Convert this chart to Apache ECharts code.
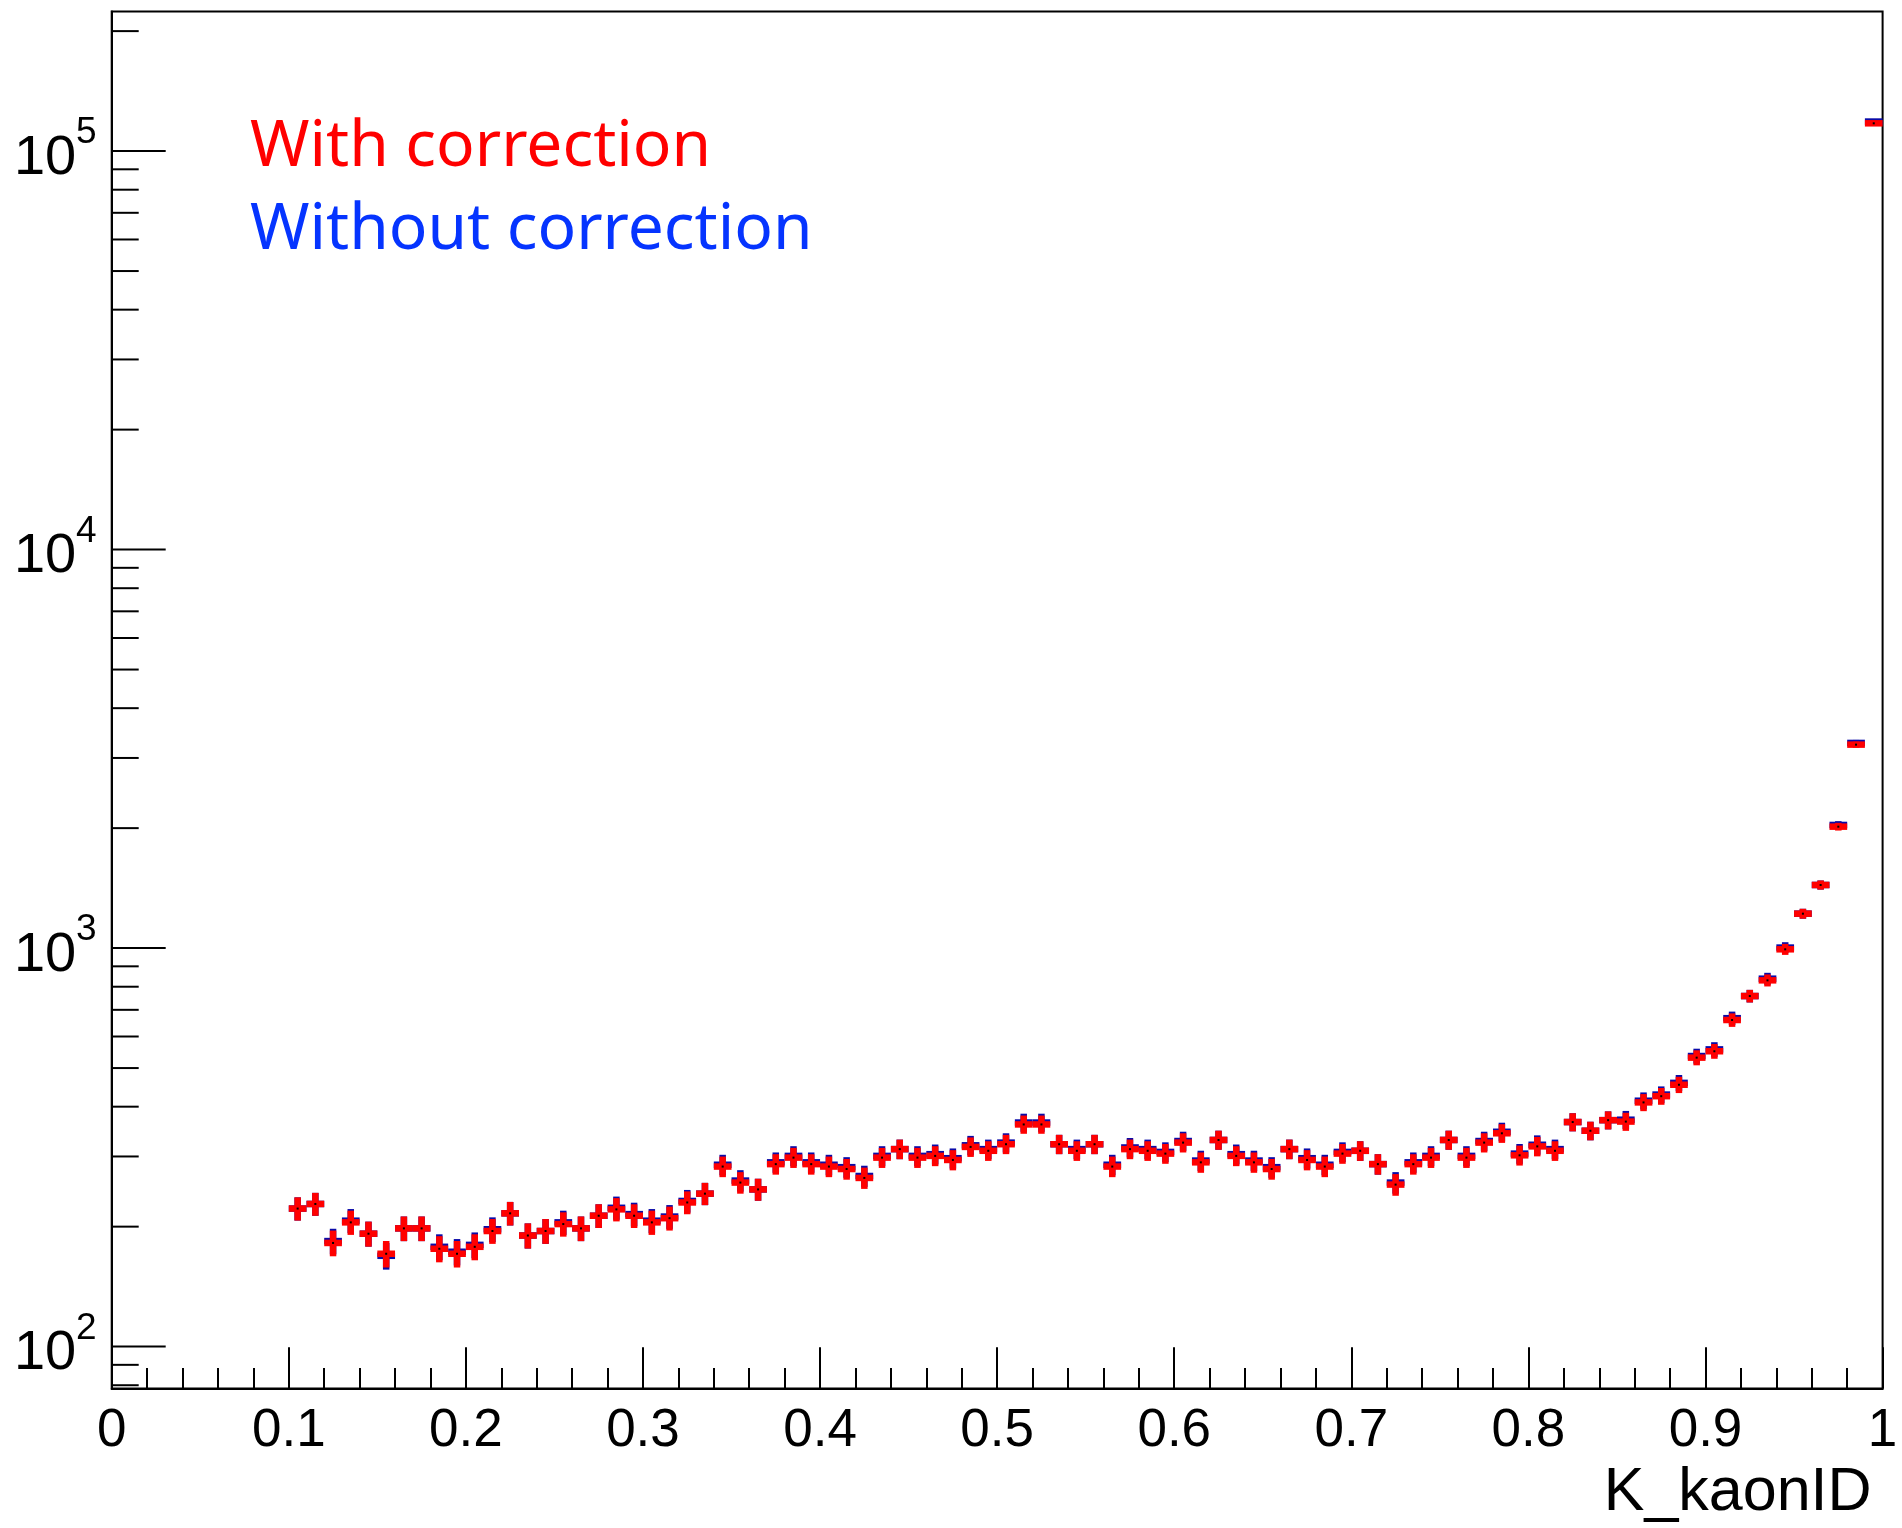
<!DOCTYPE html>
<html>
<head>
<meta charset="utf-8">
<script src="https://cdn.jsdelivr.net/npm/echarts@6/dist/echarts.min.js"></script>
<style>
html,body{margin:0;padding:0;background:#fff;}
#chart{width:1902px;height:1528px;}
</style>
</head>
<body>
<div id="chart"></div>
<script>
// ---- data ----
const binCenters = [
  0.105,0.115,0.125,0.135,0.145,0.155,0.165,0.175,0.185,0.195,
  0.205,0.215,0.225,0.235,0.245,0.255,0.265,0.275,0.285,0.295,
  0.305,0.315,0.325,0.335,0.345,0.355,0.365,0.375,0.385,0.395,
  0.405,0.415,0.425,0.435,0.445,0.455,0.465,0.475,0.485,0.495,
  0.505,0.515,0.525,0.535,0.545,0.555,0.565,0.575,0.585,0.595,
  0.605,0.615,0.625,0.635,0.645,0.655,0.665,0.675,0.685,0.695,
  0.705,0.715,0.725,0.735,0.745,0.755,0.765,0.775,0.785,0.795,
  0.805,0.815,0.825,0.835,0.845,0.855,0.865,0.875,0.885,0.895,
  0.905,0.915,0.925,0.935,0.945,0.955,0.965,0.975,0.985,0.995
];
const binWidth = 0.01;
const withCorrection = [
  222,228,182,205,192,171,198,198,176,171,
  178,195,216,190,195,203,198,213,221,213,
  205,210,230,242,283,258,248,287,298,287,
  283,279,265,298,313,298,301,294,317,310,
  322,361,361,322,310,322,283,313,310,305,
  325,290,330,301,290,279,313,294,283,305,
  310,287,255,287,298,330,298,325,343,302,
  318,310,366,348,370,367,410,425,454,531,
  551,660,758,830,993,1220,1440,2017,3240,117400
];
const withoutCorrection = [
  222,228,184,207,192,169,198,198,178,173,
  180,197,216,190,195,205,198,213,223,215,
  207,212,232,242,286,261,248,290,301,290,
  286,282,268,301,313,301,304,297,320,313,
  325,365,365,322,313,322,286,316,313,308,
  328,293,330,304,293,282,313,297,286,308,
  310,287,258,290,301,330,301,328,346,305,
  321,313,366,348,370,371,414,429,459,536,
  557,667,758,838,1003,1220,1440,2037,3272,118600
];
const yMajorTicks = [100, 1000, 10000, 100000];
const yMajorExponents = ['2', '3', '4', '5'];
const yMinorTicks = [80, 90,
  200,300,400,500,600,700,800,900,
  2000,3000,4000,5000,6000,7000,8000,9000,
  20000,30000,40000,50000,60000,70000,80000,90000,
  200000];
const xMin = 0, xMax = 1, yMin = 78.5, yMax = 224000;
const xTitle = 'K_kaonID';
const legendTexts = ['With correction', 'Without correction'];

// ---- style ----
const RED = '#ff0000';
const BLUE_MARK = '#0a0aa8';
const BLUE_TEXT = '#0534ff';
const FONT = 'Liberation Sans';

const chart = echarts.init(document.getElementById('chart'), null, {renderer: 'canvas'});

function histSeries(name, values, color) {
  return {
    name: name,
    type: 'custom',
    coordinateSystem: 'cartesian2d',
    data: binCenters.map((x, i) => [x, values[i]]),
    renderItem: function (params, api) {
      const x = api.value(0), v = api.value(1);
      const e = Math.sqrt(v);
      const c = api.coord([x, v]);
      const l = api.coord([x - binWidth / 2, v]);
      const r = api.coord([x + binWidth / 2, v]);
      const t = api.coord([x, v + e]);
      const b = api.coord([x, v - e]);
      return {
        type: 'group',
        children: [
          {type: 'line', shape: {x1: l[0], y1: c[1], x2: r[0], y2: c[1]},
           style: {stroke: color, lineWidth: 6.5}},
          {type: 'line', shape: {x1: c[0], y1: t[1], x2: c[0], y2: b[1]},
           style: {stroke: color, lineWidth: 6.5}},
          {type: 'rect', shape: {x: c[0] - 1, y: c[1] - 1, width: 2, height: 2},
           style: {fill: '#000'}}
        ]
      };
    },
    z: 5
  };
}

const option = {
  backgroundColor: '#fff',
  animation: false,
  grid: {left: 111.7, top: 11.5, width: 1770.9, height: 1377, show: true,
         borderColor: '#000', borderWidth: 2, backgroundColor: 'transparent'},
  xAxis: {
    type: 'value', min: xMin, max: xMax, interval: 0.1,
    axisLine: {show: true, onZero: false, lineStyle: {color: '#000', width: 2}},
    axisTick: {show: true, inside: true, length: 41.3, lineStyle: {color: '#000', width: 2}},
    minorTick: {show: true, splitNumber: 5, length: 20.6, lineStyle: {color: '#000', width: 2}},
    splitLine: {show: false},
    axisLabel: {show: true, color: '#000', fontSize: 53, fontFamily: FONT, margin: 16},
    name: xTitle, nameLocation: 'end', nameGap: 0,
    nameTextStyle: {fontSize: 61, fontFamily: FONT, color: '#000', align: 'right',
                    verticalAlign: 'top', padding: [74, 11, 0, 0]}
  },
  yAxis: {
    type: 'log', logBase: 10, min: yMin, max: yMax,
    axisLine: {show: true, lineStyle: {color: '#000', width: 2}},
    axisTick: {show: false}, minorTick: {show: false},
    axisLabel: {show: false}, splitLine: {show: false}
  },
  series: [
    {
      type: 'custom', coordinateSystem: 'cartesian2d', silent: true,
      data: yMajorTicks.map((v, i) => [xMin, v, i]),
      renderItem: function (params, api) {
        const c = api.coord([api.value(0), api.value(1)]);
        const exp = yMajorExponents[api.value(2)];
        return {type: 'group', children: [
          {type: 'line', shape: {x1: c[0], y1: c[1], x2: c[0] + 54, y2: c[1]},
           style: {stroke: '#000', lineWidth: 2}},
          {type: 'text', x: c[0] - 35.5, y: c[1] + 7,
           style: {text: '10', fontSize: 56, fontFamily: FONT, fill: '#000',
                   align: 'right', verticalAlign: 'middle'}},
          {type: 'text', x: c[0] - 15, y: c[1] - 18,
           style: {text: exp, fontSize: 37, fontFamily: FONT, fill: '#000',
                   align: 'right', verticalAlign: 'middle'}}
        ]};
      },
      z: 3
    },
    {
      type: 'custom', coordinateSystem: 'cartesian2d', silent: true,
      data: yMinorTicks.map(v => [xMin, v]),
      renderItem: function (params, api) {
        const c = api.coord([api.value(0), api.value(1)]);
        return {type: 'line', shape: {x1: c[0], y1: c[1], x2: c[0] + 27, y2: c[1]},
                style: {stroke: '#000', lineWidth: 2}};
      },
      z: 3
    },
    histSeries(legendTexts[1], withoutCorrection, BLUE_MARK),
    histSeries(legendTexts[0], withCorrection, RED)
  ],
  graphic: [
    {type: 'text', left: 250, top: 116,
     style: {text: legendTexts[0], fontSize: 64, fontFamily: 'Noto Sans', fill: RED}},
    {type: 'text', left: 250, top: 199,
     style: {text: legendTexts[1], fontSize: 64, fontFamily: 'Noto Sans', fill: BLUE_TEXT}}
  ]
};
chart.setOption(option);
</script>
</body>
</html>
